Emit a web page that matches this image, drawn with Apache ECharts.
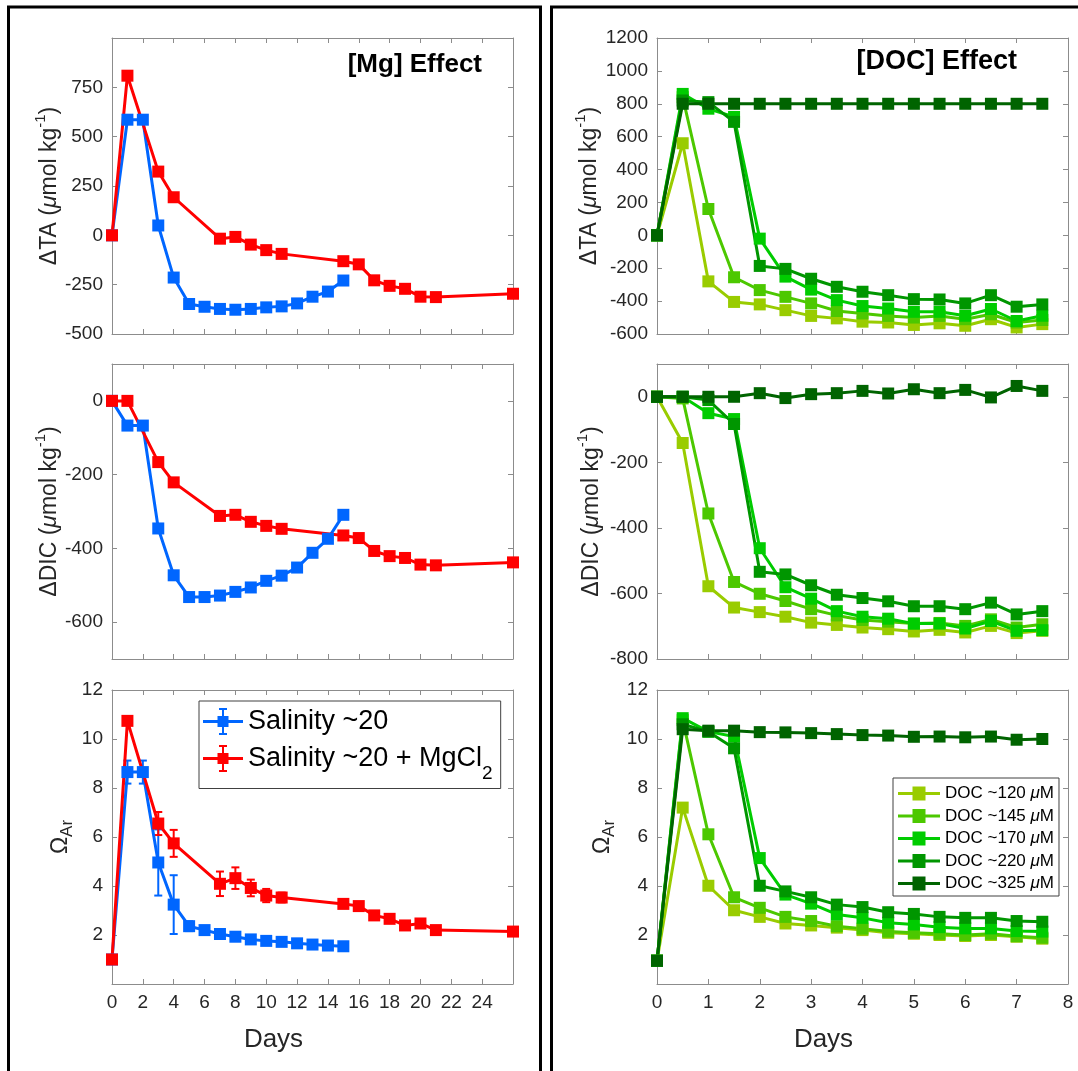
<!DOCTYPE html>
<html><head><meta charset="utf-8">
<script src="https://cdn.jsdelivr.net/npm/echarts@6/dist/echarts.min.js"></script>
<style>html,body{margin:0;padding:0;background:#fff}#c{width:1078px;height:1071px}</style>
</head><body><div id="c"></div>
<script>
// ---------- [Mg] Effect data ----------
const mgDaysBlue = [0,1,2,3,4,5,6,7,8,9,10,11,12,13,14,15];
const mgDaysRed  = [0,1,3,4,7,8,9,10,11,15,16,17,18,19,20,21,26];
const taBlue  = [0,586,586,50,-214,-348,-362,-373,-377,-373,-365,-360,-345,-311,-285,-229];
const taRed   = [0,809,323,193,-17,-8,-47,-75,-94,-131,-147,-228,-256,-271,-311,-313,-296];
const dicBlue = [0,-67,-67,-346,-473,-532,-532,-528,-518,-506,-488,-474,-452,-412,-374,-309];
const dicRed  = [0,0,-166,-221,-312,-309,-328,-339,-347,-365,-372,-407,-421,-426,-444,-446,-438];
const omBlue  = [1.0,8.65,8.65,4.96,3.24,2.36,2.20,2.04,1.93,1.82,1.76,1.72,1.66,1.61,1.57,1.54];
const omBlueErr = [0.1,0.47,0.47,1.35,1.2,0.2,0.15,0.1,0.1,0.1,0.1,0.1,0.1,0.1,0.1,0.1];
const omRed   = [1.0,10.74,6.55,5.74,4.09,4.32,3.92,3.61,3.53,3.27,3.18,2.80,2.66,2.39,2.47,2.20,2.14];
const omRedErr = [0.1,0.15,0.47,0.55,0.5,0.44,0.34,0.27,0.2,0.1,0.1,0.1,0.1,0.1,0.1,0.1,0.1];
const mgNames = ['Salinity ~20','Salinity ~20 + MgCl2'];

// ---------- [DOC] Effect data ----------
const docDays = [0,0.5,1,1.5,2,2.5,3,3.5,4,4.5,5,5.5,6,6.5,7,7.5];
const docNames = ['DOC ~120 μM','DOC ~145 μM','DOC ~170 μM','DOC ~220 μM','DOC ~325 μM'];
const ta120 = [0,560,-280,-405,-420,-455,-490,-505,-525,-530,-545,-535,-550,-510,-560,-540];
const ta145 = [0,840,160,-255,-333,-374,-414,-460,-475,-490,-500,-490,-510,-480,-530,-515];
const ta170 = [0,860,770,720,-20,-251,-330,-394,-430,-445,-465,-465,-489,-448,-521,-489];
const ta220 = [0,820,810,690,-186,-204,-264,-313,-343,-364,-388,-390,-414,-364,-434,-420];
const ta325 = [0,800,800,800,800,800,800,800,800,800,800,800,800,800,800,800];
const dic120 = [0,-141,-578,-643,-657,-671,-689,-696,-704,-709,-716,-711,-719,-699,-721,-714];
const dic145 = [0,-5,-356,-565,-601,-623,-648,-667,-681,-686,-692,-690,-699,-679,-704,-694];
const dic170 = [0,0,-50,-68,-462,-581,-616,-654,-671,-677,-692,-692,-707,-684,-714,-712];
const dic220 = [0,0,-10,-83,-534,-542,-575,-604,-614,-624,-639,-639,-648,-628,-664,-654];
const dic325 = [0,0,0,0,11,-4,8,11,18,10,23,11,21,-2,33,18];
const om120 = [0.95,7.2,4.01,3.01,2.74,2.47,2.39,2.3,2.2,2.09,2.05,2.0,1.96,2.0,1.93,1.85];
const om145 = [0.95,10.77,6.11,3.54,3.11,2.74,2.57,2.36,2.26,2.14,2.09,2.05,2.0,2.05,1.95,1.89];
const om170 = [0.95,10.85,10.3,10.1,5.14,3.65,3.28,2.84,2.7,2.5,2.43,2.32,2.27,2.27,2.16,2.14];
const om220 = [0.95,10.6,10.3,9.62,4.01,3.78,3.54,3.24,3.14,2.93,2.86,2.74,2.7,2.7,2.57,2.54];
const om325 = [0.95,10.4,10.34,10.34,10.28,10.27,10.24,10.2,10.16,10.14,10.09,10.1,10.07,10.1,9.97,10.0];

// ---------- tick labels ----------
const leftXLabels = [0,2,4,6,8,10,12,14,16,18,20,22,24];
const rightXLabels = [0,1,2,3,4,5,6,7,8];
const taMgLabels = [-500,-250,0,250,500,750];
const dicMgTicks = [-600,-400,-200,0];
const omLabels = [2,4,6,8,10,12];
const dicDocTicks = [-800,-600,-400,-200,0];

const FONT = "'Liberation Sans', Arial, Helvetica, sans-serif";
const LINE = '#8c8c8c', TXT = '#262626';
const BLUE = '#0066ff', RED = '#ff0000';
const GREENS = ['#99cc00','#4cc800','#00cc00','#009600','#006400'];

const chart = echarts.init(document.getElementById('c'));

const grids = [
  {left:112, top:38,  width:401, height:296},
  {left:112, top:364, width:401, height:295},
  {left:112, top:690, width:401, height:294},
  {left:657, top:38,  width:411, height:296},
  {left:657, top:364, width:411, height:295},
  {left:657, top:690, width:411, height:294}
];

const plain = v => String(v);
const xAxes = [], yAxes = [];
function addX(g, min, max, interval, labels, name) {
  const common = {gridIndex:g, type:'value', min, max, interval,
    axisLine:{show:true, onZero:false, lineStyle:{color:LINE, width:1}},
    axisTick:{show:true, inside:true, length:5, lineStyle:{color:LINE}},
    splitLine:{show:false}};
  xAxes.push(Object.assign({}, common, {position:'bottom',
    axisLabel: labels ? {show:true, customValues:labels, margin:9, fontSize:19, color:TXT, fontFamily:FONT, formatter:plain} : {show:false},
    name: name || '', nameLocation:'middle', nameGap:43,
    nameTextStyle:{fontSize:26, color:TXT, fontFamily:FONT, padding:[0,78,0,0]}}));
  xAxes.push(Object.assign({}, common, {position:'top', axisLabel:{show:false}}));
}
const nameRich = {
  mu:{fontSize:23, fontStyle:'italic', color:TXT, fontFamily:FONT},
  sup:{fontSize:15, color:TXT, fontFamily:FONT, padding:[0,0,18,0]},
  sub:{fontSize:17, color:TXT, fontFamily:FONT, padding:[14,0,0,0]}
};
function addY(g, min, max, interval, labels, ticks, name, gap) {
  const tick = {show:true, inside:true, length:5, lineStyle:{color:LINE}};
  if (ticks) tick.customValues = ticks;
  const common = {gridIndex:g, type:'value', min, max, interval,
    axisLine:{show:true, onZero:false, lineStyle:{color:LINE, width:1}},
    axisTick:tick, splitLine:{show:false}};
  const lab = {show:true, margin:9, fontSize:19, color:TXT, fontFamily:FONT, formatter:plain};
  if (labels) lab.customValues = labels;
  yAxes.push(Object.assign({}, common, {position:'left', axisLabel:lab,
    name, nameLocation:'middle', nameGap:gap,
    nameTextStyle:{fontSize:23, color:TXT, fontFamily:FONT, rich:nameRich}}));
  yAxes.push(Object.assign({}, common, {position:'right', axisLabel:{show:false}}));
}
const TA_NAME = 'ΔTA ({mu|μ}mol kg{sup|-1})';
const DIC_NAME = 'ΔDIC ({mu|μ}mol kg{sup|-1})';
const OM_NAME = 'Ω{sub|Ar}';

addX(0,0,26,2,null); addY(0,-500,1000,250,taMgLabels,null,TA_NAME,46);
addX(1,0,26,2,null); addY(1,-700,100,100,dicMgTicks,dicMgTicks,DIC_NAME,46);
addX(2,0,26,2,leftXLabels,'Days'); addY(2,0,12,2,omLabels,null,OM_NAME,36);
addX(3,0,8,1,null); addY(3,-600,1200,200,null,null,TA_NAME,51);
addX(4,0,8,1,null); addY(4,-800,100,100,dicDocTicks,dicDocTicks,DIC_NAME,49);
addX(5,0,8,1,rightXLabels,'Days'); addY(5,0,12,2,omLabels,null,OM_NAME,39);

const series = [];
function pairs(xs, ys) { return xs.map((x,i)=>[x, ys[i]]); }
function line(g, name, xs, ys, color) {
  series.push({type:'line', name, xAxisIndex:2*g, yAxisIndex:2*g, data:pairs(xs,ys),
    symbol:'rect', symbolSize:12, showAllSymbol:true, color,
    lineStyle:{width:3, color}, itemStyle:{color},
    emphasis:{disabled:true}, silent:true, animation:false});
}
function errbars(g, name, xs, ys, es, color) {
  series.push({type:'custom', name, xAxisIndex:2*g, yAxisIndex:2*g,
    data: xs.map((x,i)=>[x, ys[i], es[i]]), encode:{x:0, y:1}, silent:true, animation:false,
    renderItem: function(params, api) {
      const x = api.value(0), y = api.value(1), e = api.value(2);
      const p1 = api.coord([x, y + e]), p2 = api.coord([x, y - e]);
      const st = {stroke:color, lineWidth:2};
      return {type:'group', children:[
        {type:'line', shape:{x1:p1[0], y1:p1[1], x2:p2[0], y2:p2[1]}, style:st},
        {type:'line', shape:{x1:p1[0]-4, y1:p1[1], x2:p1[0]+4, y2:p1[1]}, style:st},
        {type:'line', shape:{x1:p2[0]-4, y1:p2[1], x2:p2[0]+4, y2:p2[1]}, style:st}
      ]};
    }});
}
// Mg panels
line(0, mgNames[0], mgDaysBlue, taBlue, BLUE);
line(0, mgNames[1], mgDaysRed, taRed, RED);
line(1, mgNames[0], mgDaysBlue, dicBlue, BLUE);
line(1, mgNames[1], mgDaysRed, dicRed, RED);
errbars(2, 'errBlue', mgDaysBlue, omBlue, omBlueErr, BLUE);
line(2, mgNames[0], mgDaysBlue, omBlue, BLUE);
errbars(2, 'errRed', mgDaysRed, omRed, omRedErr, RED);
line(2, mgNames[1], mgDaysRed, omRed, RED);
// DOC panels
[ta120,ta145,ta170,ta220,ta325].forEach((d,i)=>line(3, docNames[i], docDays, d, GREENS[i]));
[dic120,dic145,dic170,dic220,dic325].forEach((d,i)=>line(4, docNames[i], docDays, d, GREENS[i]));
[om120,om145,om170,om220,om325].forEach((d,i)=>line(5, docNames[i], docDays, d, GREENS[i]));

const ICON_ERR = 'path://M0 12H40V15H0Z M14.5 8H25.5V19H14.5Z M19 0H21V27H19Z M16 0H24V2H16Z M16 25H24V27H16Z';
const ICON_DOC = 'path://M0 5.5H42V8.5H0Z M14.5 0H27.5V14H14.5Z';

const option = {
  animation:false,
  backgroundColor:'#fff',
  textStyle:{fontFamily:FONT},
  grid:grids,
  xAxis:xAxes,
  yAxis:yAxes,
  legend:[
    {left:199, top:701, orient:'vertical', padding:[7,8,5,4], itemWidth:40, itemHeight:27, itemGap:10,
     borderColor:'#404040', borderWidth:1, backgroundColor:'#fff', selectedMode:false,
     itemStyle:{borderWidth:0},
     data: mgNames.map(n=>({name:n, icon:ICON_ERR})),
     formatter: n => n.replace('MgCl2','MgCl{sub|2}'),
     textStyle:{fontSize:27, color:'#000', fontFamily:FONT, lineHeight:27,
       rich:{sub:{fontSize:19, color:'#000', fontFamily:FONT, padding:[31,0,0,0]}}}},
    {left:893, top:778, orient:'vertical', padding:[7,5,4,5], itemWidth:42, itemHeight:14, itemGap:5.5,
     borderColor:'#404040', borderWidth:1, backgroundColor:'#fff', selectedMode:false,
     itemStyle:{borderWidth:0},
     data: docNames.map(n=>({name:n, icon:ICON_DOC})),
     formatter: n => n.replace('μ','{mu|μ}'),
     textStyle:{fontSize:17, color:'#000', fontFamily:FONT, lineHeight:17,
       rich:{mu:{fontSize:17, fontStyle:'italic', color:'#000', fontFamily:FONT}}}}
  ],
  graphic:[
    {type:'rect', shape:{x:8.5, y:7, width:532, height:1200}, style:{fill:'none', stroke:'#000', lineWidth:3}, silent:true, z:100},
    {type:'rect', shape:{x:551.5, y:7, width:600, height:1200}, style:{fill:'none', stroke:'#000', lineWidth:3}, silent:true, z:100},
    {type:'text', x:482, y:65, style:{text:'[Mg] Effect', font:"bold 26px 'Liberation Sans', Arial, sans-serif", fill:'#000', textAlign:'right', textVerticalAlign:'middle'}, silent:true},
    {type:'text', x:1017, y:62, style:{text:'[DOC] Effect', font:"bold 27px 'Liberation Sans', Arial, sans-serif", fill:'#000', textAlign:'right', textVerticalAlign:'middle'}, silent:true}
  ],
  series
};
chart.setOption(option);
</script>
</body></html>
